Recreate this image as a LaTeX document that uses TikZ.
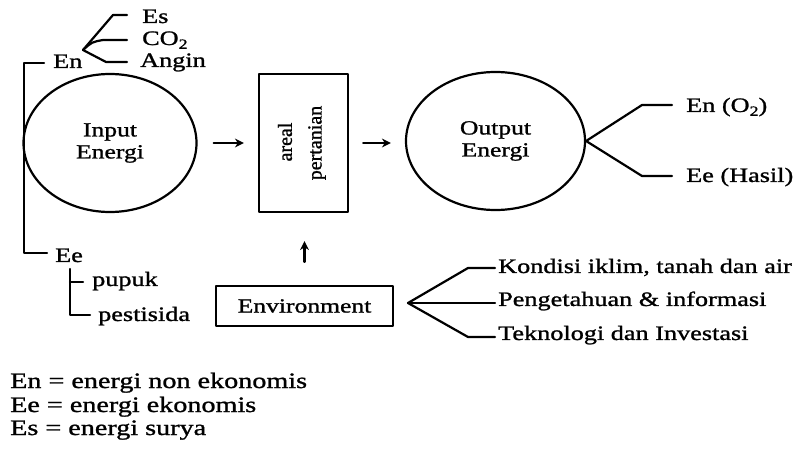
\documentclass[tikz,border=0pt]{standalone}
\usepackage{fontspec}
\setmainfont{Liberation Serif}[FakeStretch=1.28,FakeBold=1.2]
\newfontfamily\rotfont{Liberation Serif}[FakeBold=1.2]
\usetikzlibrary{arrows.meta,shapes.geometric}
\newcommand{\subtwo}{\raisebox{-0.4ex}{\fontsize{14bp}{14bp}\selectfont 2}}
\begin{document}
\begin{tikzpicture}[x=1bp,y=-1bp,
  wire/.style={line width=2.2bp, line join=round, line cap=round},
  arr/.style={wire, -{Stealth[length=9bp,width=9bp]}},
  lbl/.style={inner sep=0pt, font=\fontsize{20.5bp}{22bp}\selectfont},
  legend/.style={inner sep=0pt, anchor=base west, font=\fontsize{22bp}{24bp}\selectfont},
  oval/.style={draw, ellipse, wire, inner sep=0pt, align=center,
               font=\fontsize{20bp}{22bp}\selectfont},
  frame/.style={draw, wire, inner sep=0pt, font=\fontsize{20bp}{22bp}\selectfont}
]
\useasboundingbox (0,0) rectangle (798,451);

% main flow: input -> areal pertanian -> output
\node[oval, minimum width=173bp, minimum height=138bp] (input) at (110,143) {Input\\Energi};
\node[frame, minimum width=89bp, minimum height=138bp] (areal) at (303.5,143) {};
\node[lbl, rotate=90, font=\rotfont\fontsize{20bp}{22bp}\selectfont] (arealtxt) at (285,142) {areal};
\node[lbl, rotate=90, font=\rotfont\fontsize{20bp}{22bp}\selectfont] (pertxt) at (317,143) {pertanian};
\node[oval, minimum width=179bp, minimum height=138bp] (output) at (495.5,141) {Output\\Energi};

\draw[arr] ([xshift=16bp]input.east) -- ([xshift=-14bp]areal.west);
\draw[arr] ([xshift=14bp]areal.east) -- ([xshift=-14bp]areal.east -| output.west);

% environment
\node[frame, minimum width=177bp, minimum height=40bp] (env) at (304.5,306) {Environment};
\draw[arr] ([yshift=23bp]env.north) -- ([yshift=-28bp]areal.south -| env.north);

% input energy bracket
\coordinate (brtop) at (24,63);
\coordinate (brtopend) at (44,63);
\coordinate (brbot) at (24,253);
\coordinate (brbotend) at (47,253);
\node[lbl, anchor=base west] (en) at (53,68) {En};
\node[lbl, anchor=base west] (ee) at (55,262) {Ee};
\draw[wire] (brtopend) -- (brtop) -- (brbot) -- (brbotend);

% non-economic inputs
\coordinate (enj) at (83,50);
\coordinate (esbend) at (113,15);
\coordinate (esend) at (127,15);
\coordinate (cobend) at (103,40);
\coordinate (coend) at (127,40);
\coordinate (anbend) at (106,62);
\coordinate (anend) at (127,62);
\draw[wire] (enj) -- (esbend) -- (esend);
\draw[wire] (enj) .. controls (92,42) .. (cobend) -- (coend);
\draw[wire] (enj) -- (anbend) -- (anend);
\node[lbl, anchor=base west] (es) at (142,23) {Es};
\node[lbl, anchor=base west] (co) at (142,45) {CO\subtwo};
\node[lbl, anchor=base west] (angin) at (140,67) {Angin};

% economic inputs
\coordinate (subtop) at (70,269);
\coordinate (subbot) at (70,315);
\coordinate (pupend) at (83,282);
\coordinate (pestend) at (90,315);
\draw[wire] (subtop) -- (subbot) -- (pestend);
\draw[wire] (subtop |- pupend) -- (pupend);
\node[lbl, anchor=base west] (pupuk) at (92,286) {pupuk};
\node[lbl, anchor=base west] (pest) at (98,321) {pestisida};

% output branches
\coordinate (outa) at (642,105);
\coordinate (outaend) at (672,105);
\coordinate (outb) at (642,176);
\coordinate (outbend) at (672,176);
\draw[wire] (output.east) -- (outa) -- (outaend);
\draw[wire] (output.east) -- (outb) -- (outbend);
\node[lbl, anchor=base west] (eno) at (686,112) {En (O\subtwo)};
\node[lbl, anchor=base west] (eeh) at (686,182) {Ee (Hasil)};

% environment factors
\coordinate (envj) at (408,303);
\coordinate (ka) at (468,268);
\coordinate (kaend) at (495,268);
\coordinate (kbend) at (495,303);
\coordinate (kc) at (468,337);
\coordinate (kcend) at (495,337);
\draw[wire] (envj) -- (ka) -- (kaend);
\draw[wire] (envj) -- (kbend);
\draw[wire] (envj) -- (kc) -- (kcend);
\node[lbl, anchor=base west] (kond) at (498,273) {Kondisi iklim, tanah dan air};
\node[lbl, anchor=base west] (peng) at (498,306) {Pengetahuan \& informasi};
\node[lbl, anchor=base west] (tek) at (498,340) {Teknologi dan Investasi};

% legend
\node[legend] (l1) at (10,388) {En = energi non ekonomis};
\node[legend] (l2) at (10,412) {Ee = energi ekonomis};
\node[legend] (l3) at (10,435) {Es = energi surya};
\end{tikzpicture}
\end{document}
